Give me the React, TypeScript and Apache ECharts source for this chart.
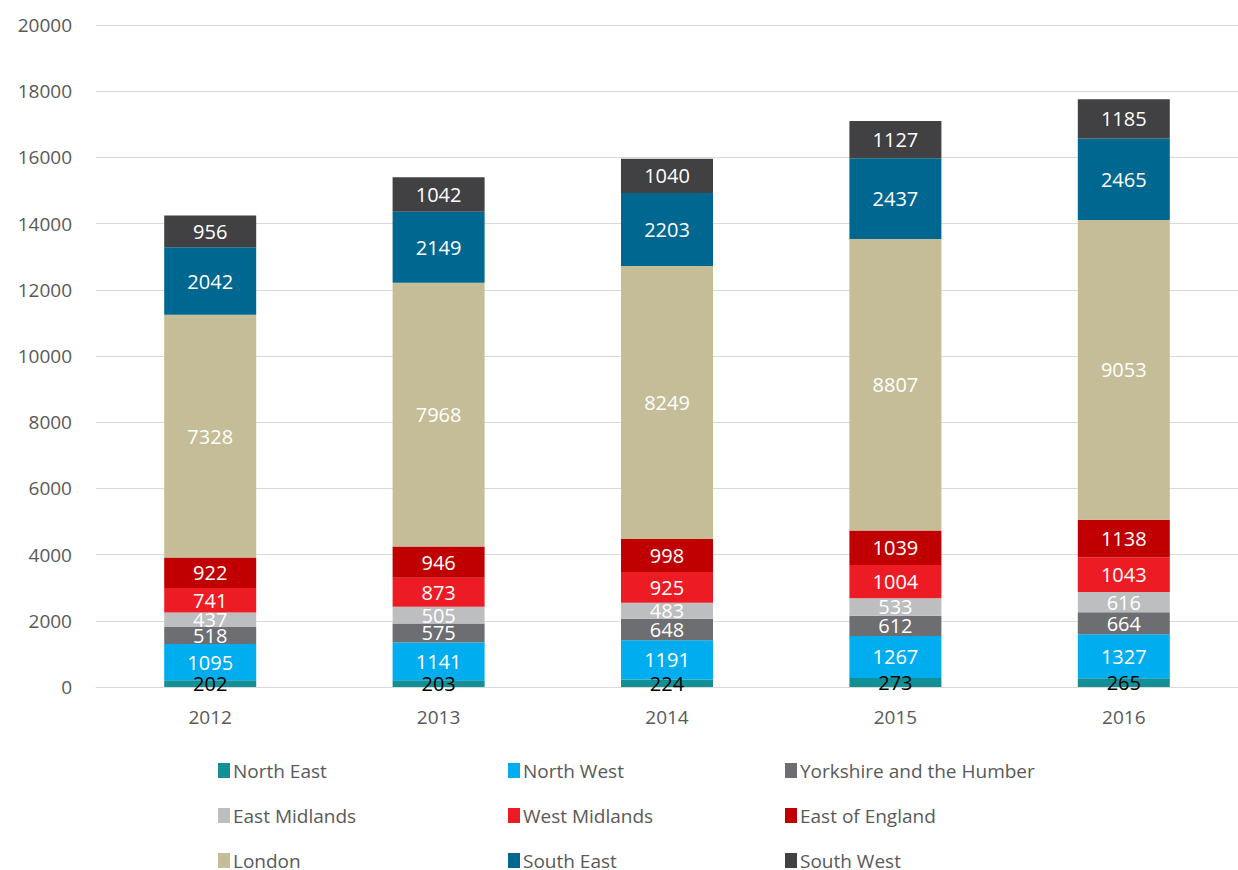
import React, { useEffect, useRef } from "react";
import * as echarts from "echarts";

const years = ["2012", "2013", "2014", "2015", "2016"];
const northEast = [202, 203, 224, 273, 265];
const northWest = [1095, 1141, 1191, 1267, 1327];
const yorkshire = [518, 575, 648, 612, 664];
const eastMidlands = [437, 505, 483, 533, 616];
const westMidlands = [741, 873, 925, 1004, 1043];
const eastOfEngland = [922, 946, 998, 1039, 1138];
const london = [7328, 7968, 8249, 8807, 9053];
const southEast = [2042, 2149, 2203, 2437, 2465];
const southWest = [956, 1042, 1040, 1127, 1185];

const seriesDefs = [
  { name: "North East", data: northEast, color: "#138F96", label: "#000000" },
  { name: "North West", data: northWest, color: "#00AEEF", label: "#ffffff" },
  { name: "Yorkshire and the Humber", data: yorkshire, color: "#6D6E71", label: "#ffffff" },
  { name: "East Midlands", data: eastMidlands, color: "#BCBEC0", label: "#ffffff" },
  { name: "West Midlands", data: westMidlands, color: "#ED1C24", label: "#ffffff" },
  { name: "East of England", data: eastOfEngland, color: "#C00000", label: "#ffffff" },
  { name: "London", data: london, color: "#C4BD97", label: "#ffffff" },
  { name: "South East", data: southEast, color: "#006890", label: "#ffffff" },
  { name: "South West", data: southWest, color: "#414042", label: "#ffffff" },
];

const FONT = "'Open Sans', 'Noto Sans', sans-serif";

export default function App() {
  const ref = useRef<HTMLDivElement>(null);
  useEffect(() => {
    if (!ref.current) return;
    const chart = echarts.init(ref.current, undefined, { renderer: "svg" });
    const legendCommon = {
      orient: "vertical" as const,
      top: 761,
      height: 300,
      padding: 0,
      itemWidth: 12,
      itemHeight: 15,
      itemGap: 26,
      icon: "rect",
      textStyle: { color: "#595959", fontSize: 19, lineHeight: 19, fontFamily: FONT, padding: [0, 0, 0, -2] },
    };
    chart.setOption({
      animation: false,
      textStyle: { fontFamily: FONT },
      grid: { left: 96, width: 1152, top: 25, height: 662 },
      legend: [
        { ...legendCommon, left: 218, data: ["North East", "East Midlands", "London"] },
        { ...legendCommon, left: 508, data: ["North West", "West Midlands", "South East"] },
        { ...legendCommon, left: 785, data: ["Yorkshire and the Humber", "East of England", "South West"] },
      ],
      xAxis: {
        type: "category",
        data: years,
        axisLine: { lineStyle: { color: "#D9D9D9", width: 1 } },
        axisTick: { show: false },
        axisLabel: { color: "#595959", fontSize: 19, fontFamily: FONT, margin: 20 },
      },
      yAxis: {
        type: "value",
        min: 0,
        max: 20000,
        interval: 2000,
        axisLine: { show: false },
        axisTick: { show: false },
        axisLabel: {
          color: "#595959",
          fontSize: 19,
          fontFamily: FONT,
          margin: 24,
          formatter: (v: number) => String(v),
        },
        splitLine: { lineStyle: { color: "#D9D9D9", width: 1 } },
      },
      series: seriesDefs.map((s) => ({
        name: s.name,
        type: "bar",
        stack: "total",
        data: s.data,
        barWidth: 92,
        itemStyle: { color: s.color },
        label: {
          show: true,
          position: "inside",
          color: s.label,
          fontSize: 20,
          fontFamily: FONT,
        },
      })),
    });
    return () => chart.dispose();
  }, []);
  return <div ref={ref} style={{ width: 1238, height: 870, position: "absolute", left: 0, top: 0 }} />;
}
